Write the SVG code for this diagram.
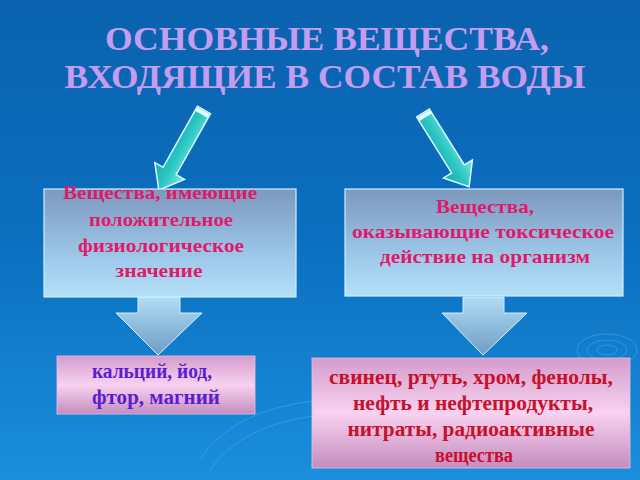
<svg xmlns="http://www.w3.org/2000/svg" width="640" height="480" viewBox="0 0 640 480">
<defs>
<linearGradient id="bg" x1="0" y1="0" x2="0" y2="1">
<stop offset="0" stop-color="#0a62ae"/>
<stop offset="0.5" stop-color="#0b6fbf"/>
<stop offset="1" stop-color="#1a8fdc"/>
</linearGradient>
<linearGradient id="top" x1="0" y1="0" x2="0" y2="1">
<stop offset="0" stop-color="#7c98bd"/>
<stop offset="0.6" stop-color="#9cc6e8"/>
<stop offset="1" stop-color="#b4e0f8"/>
</linearGradient>
<linearGradient id="head" x1="0" y1="0" x2="0" y2="1">
<stop offset="0" stop-color="#b0dcf4"/>
<stop offset="1" stop-color="#6f9cc4"/>
</linearGradient>
<linearGradient id="pink" x1="0" y1="0" x2="0" y2="1">
<stop offset="0" stop-color="#d49ccc"/>
<stop offset="0.5" stop-color="#f8d2f0"/>
<stop offset="1" stop-color="#c58cbf"/>
</linearGradient>
<linearGradient id="cy" x1="0" y1="0" x2="0" y2="1">
<stop offset="0" stop-color="#7ae8e0"/>
<stop offset="0.5" stop-color="#2cc8c4"/>
<stop offset="1" stop-color="#1ca8b0"/>
</linearGradient>
</defs>
<style>
.title{font-family:"Liberation Serif","Times New Roman",serif;font-weight:bold;font-size:33px;fill:#c49cf0;text-anchor:middle}
.t1{font-family:"Liberation Serif","Times New Roman",serif;font-weight:bold;font-size:19px;fill:#e01a6a;text-anchor:middle}
.t2{font-family:"Liberation Serif","Times New Roman",serif;font-weight:bold;font-size:20px;fill:#5a1ed0;text-anchor:middle}
.t3{font-family:"Liberation Serif","Times New Roman",serif;font-weight:bold;font-size:20px;fill:#c8102a;text-anchor:middle}
.box{fill:url(#top);stroke:#cdeeff;stroke-width:1.2}
.pbox{fill:url(#pink);stroke:#e8c0e0;stroke-width:0.8}
.blk{fill:url(#head);stroke:#d0f0ff;stroke-width:1}
.arr{fill:url(#cy);stroke:#d8fbff;stroke-width:1.5}
.cap{fill:#e8fffc}
.rip{fill:none;stroke:#5cb0f0;stroke-opacity:0.45;stroke-width:1}
</style>
<rect width="640" height="480" fill="url(#bg)"/>
<g id="ripples">
<ellipse class="rip" cx="607" cy="350" rx="10" ry="5"/>
<ellipse class="rip" cx="607" cy="350" rx="20" ry="10"/>
<ellipse class="rip" cx="607" cy="350" rx="30" ry="16"/>
<path class="rip" d="M200 460 Q230 410 320 400"/>
<path class="rip" d="M210 470 Q240 425 320 415"/>
</g>
<g id="title">
<text class="title" x="327" y="50" textLength="444" lengthAdjust="spacingAndGlyphs">ОСНОВНЫЕ ВЕЩЕСТВА,</text>
<text class="title" x="325" y="88" textLength="521" lengthAdjust="spacingAndGlyphs">ВХОДЯЩИЕ В СОСТАВ ВОДЫ</text>
</g>
<g id="connectors">
<g transform="translate(204,110) rotate(119.4)">
<path class="arr" d="M0 -7.5 L70 -7.5 L70 -17 L92 0 L70 17 L70 7.5 L0 7.5 Z"/>
<rect class="cap" x="1" y="-7" width="4" height="14"/>
</g>
<g transform="translate(423,113) rotate(58)">
<path class="arr" d="M0 -7.5 L66 -7.5 L66 -17 L87 0 L66 17 L66 7.5 L0 7.5 Z"/>
<rect class="cap" x="1" y="-7" width="4" height="14"/>
</g>
<path class="blk" d="M138 297 L180 297 L180 313 L202 313 L158 355 L116 313 L138 313 Z"/>
<path class="blk" d="M463 297 L504 297 L504 313 L527 313 L483 355 L442 313 L463 313 Z"/>
</g>
<g id="node-left">
<rect class="box" x="44" y="189" width="252" height="108"/>
<text class="t1" x="160" y="199" textLength="194" lengthAdjust="spacingAndGlyphs">Вещества, имеющие</text>
<text class="t1" x="161" y="226" textLength="144" lengthAdjust="spacingAndGlyphs">положительное</text>
<text class="t1" x="161" y="252" textLength="166" lengthAdjust="spacingAndGlyphs">физиологическое</text>
<text class="t1" x="159" y="277" textLength="87" lengthAdjust="spacingAndGlyphs">значение</text>
</g>
<g id="node-right">
<rect class="box" x="345" y="189" width="278" height="107"/>
<text class="t1" x="485" y="213" textLength="98" lengthAdjust="spacingAndGlyphs">Вещества,</text>
<text class="t1" x="483" y="238" textLength="262" lengthAdjust="spacingAndGlyphs">оказывающие токсическое</text>
<text class="t1" x="485" y="263" textLength="210" lengthAdjust="spacingAndGlyphs">действие на организм</text>
</g>
<g id="node-left-bottom">
<rect class="pbox" x="57" y="356" width="198" height="58"/>
<text class="t2" x="152" y="378" textLength="120" lengthAdjust="spacingAndGlyphs">кальций, йод,</text>
<text class="t2" x="156" y="404" textLength="128" lengthAdjust="spacingAndGlyphs">фтор, магний</text>
</g>
<g id="node-right-bottom">
<rect class="pbox" x="312" y="358" width="318" height="110"/>
<text class="t3" x="471" y="384" textLength="284" lengthAdjust="spacingAndGlyphs">свинец, ртуть, хром, фенолы,</text>
<text class="t3" x="473" y="410" textLength="240" lengthAdjust="spacingAndGlyphs">нефть и нефтепродукты,</text>
<text class="t3" x="471" y="436" textLength="247" lengthAdjust="spacingAndGlyphs">нитраты, радиоактивные</text>
<text class="t3" x="474" y="462" textLength="78" lengthAdjust="spacingAndGlyphs">вещества</text>
</g>
</svg>
